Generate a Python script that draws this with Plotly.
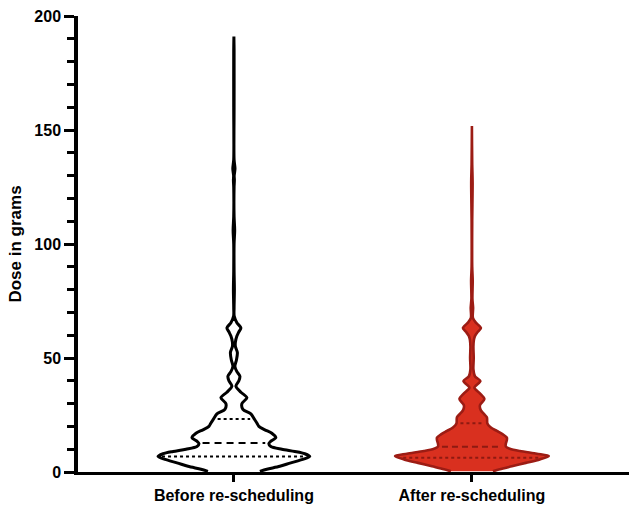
import numpy as np
import plotly.graph_objects as go

# ---- data ----
categories = ["Before re-scheduling", "After re-scheduling"]

# density profile (relative units) along the dose axis (grams)
before_dose = [0.3, 1.2, 2.5, 4, 5.5, 6.8, 8, 9, 10, 11.2, 12.5, 13.5, 15.1, 17, 18.5, 20, 21.5,
               23.5, 25.5, 27.5, 30, 32.6, 35, 37.7, 40, 42, 44, 46.4, 49, 52.4, 55, 57, 59.6,
               61.5, 63.2, 65.5, 68.4, 72, 80, 88, 100, 106, 112, 125, 128, 130, 133, 137, 160,
               185, 191]
before_density = [26, 33, 46, 57, 69, 76, 71, 61, 48, 37, 35, 37, 42, 38, 31, 25, 23,
                  20, 17, 9, 8, 13, 7, 2, 5, 6, 3, 1, 2.5, 3.5, 1.5, 1.5, 3,
                  5, 7, 3, 0.3, 0.2, 0.5, 0.2, 0.2, 0.8, 0.2, 0.2, 0.5, 0.3, 1.1, 0.2, 0.2,
                  0.2, 0]
before_quartiles = [6.8, 12.7, 23.3]   # Q1, median, Q3

after_dose = [0.3, 1.2, 2.5, 4, 5.5, 7, 8, 9.2, 10.2, 11.1, 12.5, 14, 15.1, 16.5, 18, 19.5, 21.3,
              24, 25.5, 27, 29.2, 32, 34.5, 37, 39.9, 42, 45, 50, 55, 58, 59.6, 61.5, 63.2, 65.5,
              67.6, 72, 76, 84, 90, 110, 127, 135, 151.8]
after_density = [21, 28, 40, 54, 68, 77, 65, 48, 38, 34, 34, 35, 35, 31, 25, 19, 15.5,
                 15, 12, 9, 8, 12.5, 8, 2.5, 8.5, 3, 1.5, 1.8, 1.5, 2, 3, 6, 9, 4,
                 1, 1.2, 0.5, 0.8, 0.3, 0.3, 0.7, 0.3, 0]
after_quartiles = [6.3, 11.1, 21.4]

y_ticks = [0, 50, 100, 150, 200]

# ---- styling ----
MAX_HALF = 0.323          # half width of the widest point, in category units
FONT = "Liberation Sans, Arial, sans-serif"

groups = [
    dict(dose=before_dose, dens=before_density, q=before_quartiles,
         fill="#FFFFFF", line="#000000", qline="#000000", med_dash="7px,5px", lw=3),
    dict(dose=after_dose, dens=after_density, q=after_quartiles,
         fill="#D9301F", line="#9C1C14", qline="#8E1A12", med_dash="6px,4px", lw=2.6),
]

dmax = max(max(before_density), max(after_density))
fig = go.Figure()

for pos, g in enumerate(groups):
    d = np.array(g["dose"], float)
    w = np.array(g["dens"], float) / dmax * MAX_HALF
    xs = np.concatenate([pos + w, (pos - w)[::-1]])
    ys = np.concatenate([d, d[::-1]])
    fig.add_trace(go.Scatter(
        x=xs, y=ys, mode="lines", fill="toself", fillcolor=g["fill"],
        line=dict(color=g["line"], width=g["lw"], shape="spline", smoothing=0.8),
        hoverinfo="skip", showlegend=False))
    inset = 4.0 / 238.0
    for i, qv in enumerate(g["q"]):
        hw = float(np.interp(qv, d, w)) - inset
        dash = g["med_dash"] if i == 1 else "dot"
        fig.add_trace(go.Scatter(
            x=[pos - hw, pos + hw], y=[qv, qv], mode="lines",
            line=dict(color=g["qline"], width=2, dash=dash),
            hoverinfo="skip", showlegend=False))

fig.update_layout(
    width=629, height=506,
    margin=dict(l=78, r=0, t=16, b=34),
    paper_bgcolor="white", plot_bgcolor="white",
    font=dict(family=FONT, color="black", size=16),
    xaxis=dict(
        range=[-0.655, 1.66], tickmode="array", tickvals=[0, 1], ticktext=categories,
        showgrid=False, zeroline=False, showline=True, linecolor="black", linewidth=2.5,
        ticks="outside", ticklen=7, tickwidth=3, tickcolor="black",
        ticklabelstandoff=0, automargin=False,
        tickfont=dict(family=FONT, size=16, color="black", weight="bold"),
    ),
    yaxis=dict(
        range=[0, 200], tickmode="array", tickvals=y_ticks, automargin=False,
        showgrid=False, zeroline=False, showline=True, linecolor="black", linewidth=3.5,
        ticks="outside", ticklen=10, tickwidth=2.5, tickcolor="black",
        minor=dict(dtick=10, ticks="outside", ticklen=7, tickwidth=2.5, tickcolor="black", showgrid=False),
        tickfont=dict(family=FONT, size=16, color="black", weight="bold"),
        title=dict(text="Dose in grams", standoff=9,
                   font=dict(family=FONT, size=17, color="black", weight="bold")),
    ),
)

fig.write_html("out.html", config={"displayModeBar": False},
               post_script="document.body.style.margin='0px';")
